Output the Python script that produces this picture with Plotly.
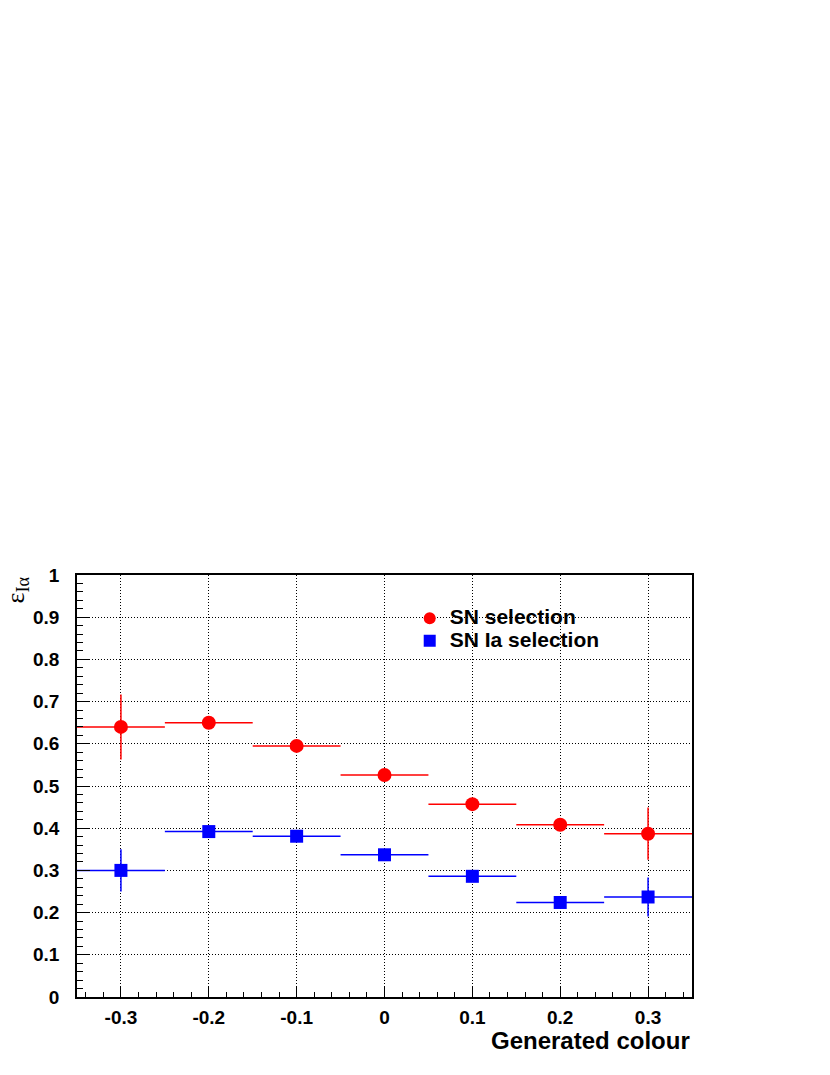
import plotly.graph_objects as go

colour = [-0.3, -0.2, -0.1, 0.0, 0.1, 0.2, 0.3]
bin_half = [0.05, 0.05, 0.05, 0.05, 0.05, 0.05, 0.05]

sn_eff = [0.640, 0.650, 0.595, 0.526, 0.457, 0.408, 0.387]
sn_err = [0.077, 0.015, 0.010, 0.008, 0.008, 0.010, 0.062]

snia_eff = [0.300, 0.392, 0.381, 0.337, 0.286, 0.224, 0.237]
snia_err = [0.050, 0.010, 0.008, 0.008, 0.008, 0.008, 0.046]

xticks = [-0.3, -0.2, -0.1, 0.0, 0.1, 0.2, 0.3]
xticklabels = ["-0.3", "-0.2", "-0.1", "0", "0.1", "0.2", "0.3"]
yticks = [0, 0.1, 0.2, 0.3, 0.4, 0.5, 0.6, 0.7, 0.8, 0.9, 1.0]
yticklabels = ["0", "0.1", "0.2", "0.3", "0.4", "0.5", "0.6", "0.7", "0.8", "0.9", "1"]

series_names = ["SN selection", "SN Ia selection"]

font_family = "Liberation Sans, Arial, sans-serif"
grid_dash = "1px,2px"

fig = go.Figure()
fig.add_trace(go.Scatter(
    x=colour, y=sn_eff, mode="markers",
    name="<span style='font-size:21px'>" + series_names[0] + "</span>",
    marker=dict(symbol="circle", size=14, color="#ff0000"),
    error_x=dict(type="data", array=bin_half, width=0, thickness=1.5, color="#ff0000"),
    error_y=dict(type="data", array=sn_err, width=0, thickness=1.5, color="#ff0000"),
))
fig.add_trace(go.Scatter(
    x=colour, y=snia_eff, mode="markers",
    name="<span style='font-size:21px'>" + series_names[1] + "</span>",
    marker=dict(symbol="square", size=13, color="#0000ff"),
    error_x=dict(type="data", array=bin_half, width=0, thickness=1.5, color="#0000ff"),
    error_y=dict(type="data", array=snia_err, width=0, thickness=1.5, color="#0000ff"),
))

fig.update_layout(
    width=830, height=1075,
    margin=dict(l=69, r=146, t=567, b=86, pad=0),
    paper_bgcolor="white", plot_bgcolor="white",
    showlegend=True,
    legend=dict(
        x=0.541, y=0.936, xanchor="left", yanchor="top",
        bgcolor="rgba(0,0,0,0)", borderwidth=0,
        font=dict(family=font_family, size=15, color="black", weight="bold"),
        itemsizing="constant", tracegroupgap=0,
    ),
    xaxis=dict(
        range=[-0.35, 0.35], tickvals=xticks, ticktext=xticklabels,
        showline=True, linecolor="black", linewidth=1.5, mirror=True,
        ticks="inside", ticklen=10, tickcolor="black", tickwidth=1,
        showgrid=True, gridcolor="black", griddash=grid_dash, gridwidth=1,
        zeroline=False, ticklabelstandoff=2,
        tickfont=dict(family=font_family, size=19, color="black", weight="bold"),
        minor=dict(dtick=0.02, tick0=0, ticks="inside", ticklen=5, tickcolor="black", showgrid=False),
    ),
    yaxis=dict(
        range=[0, 1], tickvals=yticks, ticktext=yticklabels,
        showline=True, linecolor="black", linewidth=1.5, mirror=True,
        ticks="inside", ticklen=13, tickcolor="black", tickwidth=1,
        showgrid=True, gridcolor="black", griddash=grid_dash, gridwidth=1,
        zeroline=False, ticklabelstandoff=12,
        tickfont=dict(family=font_family, size=19, color="black", weight="bold"),
        minor=dict(dtick=0.02, tick0=0, ticks="inside", ticklen=6, tickcolor="black", showgrid=False),
    ),
    annotations=[
        dict(text="<b>Generated colour</b>", xref="paper", yref="paper", x=1.0, y=0,
             xanchor="right", yanchor="top", yshift=-28, showarrow=False,
             font=dict(family=font_family, size=24, color="black")),
        dict(text="ε<sub>Iα</sub>", xref="paper", yref="paper", x=0, y=1.0,
             xanchor="center", yanchor="top", xshift=-61, yshift=0, textangle=-90, showarrow=False,
             font=dict(family="Liberation Serif, Times New Roman, serif", size=26, color="black")),
    ],
)

fig.write_html("out.html")
